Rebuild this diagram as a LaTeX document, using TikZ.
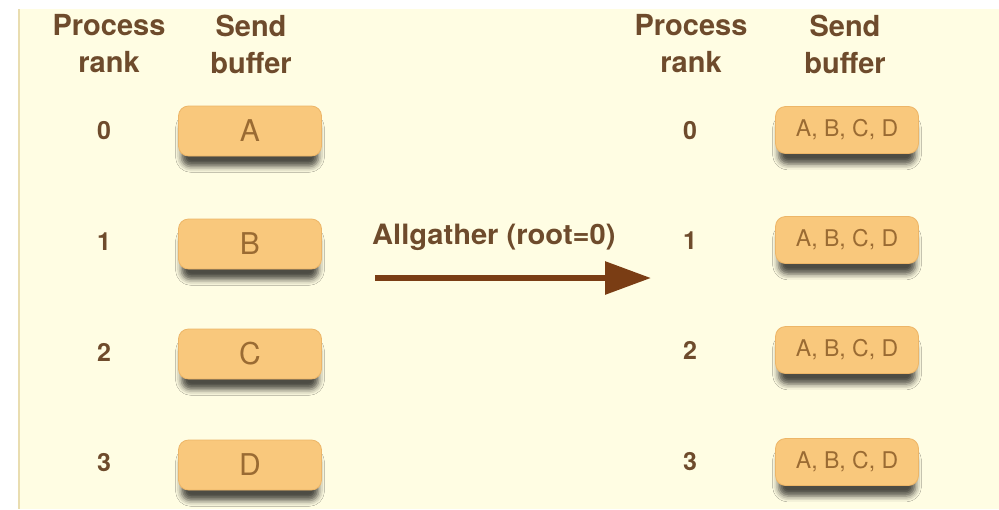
\documentclass[tikz,border=0pt]{standalone}
\usepackage{fontspec}
\setmainfont{TeX Gyre Heros}
\usetikzlibrary{arrows.meta,shadows.blur}
\definecolor{cream}{HTML}{FFFDE3}
\definecolor{edgetan}{HTML}{E9DDB0}
\definecolor{boxfill}{HTML}{F9C87C}
\definecolor{boxedge}{HTML}{EDB668}
\definecolor{headbrown}{HTML}{6E4B2C}
\definecolor{boxtext}{HTML}{9A6B33}
\definecolor{arrowbrown}{HTML}{7A3D14}
\definecolor{shadowgrey}{HTML}{4A4030}
\tikzset{
  header/.style={font=\bfseries\fontsize{29}{37}\selectfont, text=headbrown, align=center, inner sep=0pt},
  ranklabel/.style={font=\bfseries\fontsize{25}{28}\selectfont, text=headbrown, inner sep=0pt},
  bufbox/.style={draw=boxedge, line width=0.8pt, fill=boxfill, rounded corners=10pt,
    minimum width=143pt, minimum height=50pt, inner sep=0pt, text=boxtext,
    blur shadow={shadow xshift=0pt, shadow yshift=-12pt, shadow blur radius=6pt,
      shadow scale=0.96, shadow opacity=70, shadow blur extra rounding=4pt}},
  bigtext/.style={font=\fontsize{30}{32}\selectfont},
  smalltext/.style={font=\fontsize{23}{26}\selectfont},
  oplabel/.style={font=\bfseries\fontsize{28}{30}\selectfont, text=headbrown, anchor=west, inner sep=0pt, xscale=1.04},
  oparrow/.style={draw=arrowbrown, line width=6pt, -{Triangle[length=46pt, width=32pt]}}
}
\begin{document}
\begin{tikzpicture}[x=1pt,y=-1pt]
  % page and panel background
  \useasboundingbox (0,0) rectangle (999,509);
  \fill[white] (0,0) rectangle (999,509);
  \fill[cream] (18,9) rectangle (999,509);
  \draw[edgetan, line width=2pt] (19,9) -- (19,509);

  % column headings, before
  \node[header] (hrank1) at (109,44) {Process\\rank};
  \node[header] (hbuf1)  at (251,44) {Send\\buffer};
  % column headings, after
  \node[header] (hrank2) at (691,44) {Process\\rank};
  \node[header] (hbuf2)  at (845,44) {Send\\buffer};

  % ranks and send buffers before the operation
  \node[ranklabel] (r0) at (104,131) {0};
  \node[ranklabel] (r1) at (104,242) {1};
  \node[ranklabel] (r2) at (104,352) {2};
  \node[ranklabel] (r3) at (104,463) {3};
  \node[bufbox, bigtext] (b0) at (250,131) {A};
  \node[bufbox, bigtext] (b1) at (250,244) {B};
  \node[bufbox, bigtext] (b2) at (250,354) {C};
  \node[bufbox, bigtext] (b3) at (250,465) {D};

  % ranks and send buffers after the operation
  \node[ranklabel] (s0) at (690,131) {0};
  \node[ranklabel] (s1) at (690,241) {1};
  \node[ranklabel] (s2) at (690,350) {2};
  \node[ranklabel] (s3) at (690,462) {3};
  \node[bufbox, smalltext, minimum height=47pt] (c0) at (847,130) {A, B, C, D};
  \node[bufbox, smalltext, minimum height=47pt] (c1) at (847,240) {A, B, C, D};
  \node[bufbox, smalltext, minimum height=47pt] (c2) at (847,350) {A, B, C, D};
  \node[bufbox, smalltext, minimum height=47pt] (c3) at (847,462) {A, B, C, D};

  % the collective operation
  \node[oplabel] (op) at (372,237) {Allgather (root=0)};
  \coordinate (arrS) at (375,278);
  \coordinate (arrE) at (651,278);
  \draw[oparrow] (arrS) -- (arrE);
\end{tikzpicture}
\end{document}
